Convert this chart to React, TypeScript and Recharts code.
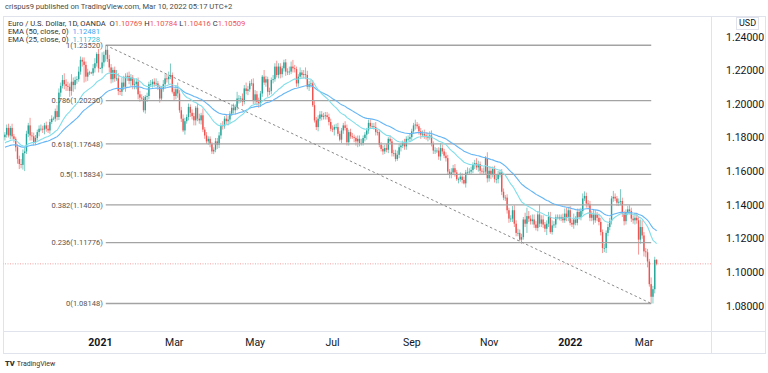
import React from 'react';
import { ComposedChart, Bar, Line, XAxis, YAxis, ReferenceLine } from 'recharts';

// ---- data (prices in pips: 11820 = 1.1820) ----
const startDate = '2020-10-20';
const firstLabelDate = '2021-01-01';
const firstOpenPips = 11805;
const closePips = [
  11820, 11860, 11815, 11860,
  11810, 11795, 11745, 11675, 11645,
  11640, 11710, 11720, 11825, 11875,
  11815, 11810, 11775, 11800, 11835,
  11855, 11855, 11850, 11875, 11855,
  11845, 11895, 11915, 11915, 11960,
  11925, 12070, 12110, 12145, 12120,
  12110, 12105, 12080, 12135, 12115,
  12145, 12150, 12195, 12265, 12255,
  12235, 12165, 12190, 12190, 12185,
  12215, 12245, 12300, 12215, 12215,
  12250, 12295, 12325, 12270, 12220,
  12150, 12205, 12155, 12155, 12080,
  12075, 12130, 12105, 12165, 12170,
  12140, 12160, 12115, 12120, 12135,
  12060, 12040, 12035, 11965, 12045,
  12050, 12120, 12120, 12135, 12120,
  12125, 12105, 12035, 12090, 12120,
  12155, 12150, 12165, 12175, 12075,
  12050, 12090, 12065, 11965, 11915,
  11845, 11900, 11925, 11985, 11950,
  11930, 11905, 11980, 11915, 11905,
  11935, 11850, 11815, 11780, 11795,
  11765, 11720, 11730, 11780, 11760,
  11815, 11875, 11870, 11915, 11900,
  11910, 11945, 11980, 11965, 11985,
  12035, 12035, 12035, 12015, 12095,
  12080, 12090, 12125, 12125, 12020,
  12060, 12015, 12005, 12065, 12165,
  12130, 12150, 12075, 12080, 12145,
  12150, 12225, 12175, 12225, 12180,
  12215, 12250, 12195, 12195, 12195,
  12225, 12215, 12210, 12125, 12165,
  12190, 12175, 12180, 12175, 12105,
  12120, 12125, 11995, 11905, 11865,
  11915, 11940, 11925, 11930, 11935,
  11925, 11895, 11855, 11850, 11865,
  11865, 11825, 11790, 11845, 11875,
  11860, 11775, 11835, 11810, 11805,
  11800, 11780, 11795, 11770, 11770,
  11800, 11820, 11845, 11890, 11870,
  11870, 11865, 11835, 11835, 11760,
  11735, 11720, 11740, 11730, 11795,
  11780, 11710, 11710, 11675, 11700,
  11745, 11755, 11770, 11750, 11795,
  11795, 11805, 11840, 11875, 11880,
  11870, 11840, 11820, 11825, 11815,
  11805, 11805, 11815, 11765, 11725,
  11725, 11725, 11690, 11740, 11720,
  11695, 11680, 11600, 11580, 11595,
  11620, 11595, 11555, 11555, 11570,
  11550, 11530, 11595, 11595, 11600,
  11610, 11640, 11650, 11625, 11645,
  11605, 11600, 11600, 11680, 11560,
  11605, 11580, 11615, 11555, 11555,
  11585, 11595, 11480, 11445, 11445,
  11370, 11320, 11320, 11370, 11290,
  11235, 11235, 11195, 11210, 11315,
  11290, 11335, 11320, 11305, 11315,
  11285, 11265, 11345, 11290, 11315,
  11285, 11260, 11290, 11330, 11240,
  11280, 11285, 11330, 11330, 11320,
  11330, 11310, 11350, 11325, 11370,
  11295, 11285, 11315, 11295, 11360,
  11330, 11365, 11440, 11455, 11410,
  11405, 11325, 11345, 11310, 11345,
  11325, 11300, 11240, 11145, 11145,
  11235, 11270, 11305, 11440, 11450,
  11440, 11415, 11420, 11425, 11350,
  11305, 11360, 11375, 11365, 11320,
  11310, 11325, 11310, 11195, 11270,
  11220, 11125, 11120, 11065, 10930,
  10855, 10900, 11075, 11051,
];
const upperWickPips = [
  15, 20, 25, 12,
  25, 14, 12, 18, 20,
  30, 22, 20, 18, 15,
  45, 20, 22, 18, 15,
  20, 25, 18, 15, 22,
  22, 18, 20, 12, 15,
  35, 25, 20, 30, 40,
  30, 25, 20, 45, 25,
  20, 18, 30, 20, 15,
  25, 20, 22, 10, 5,
  25, 30, 10, 30, 5,
  60, 20, 27, 20, 25,
  20, 15, 20, 50, 30,
  15, 30, 40, 20, 20,
  25, 20, 15, 30, 20,
  25, 20, 20, 15, 10,
  20, 15, 25, 15, 20,
  30, 15, 10, 20, 25,
  25, 25, 30, 68, 15,
  20, 25, 40, 20, 20,
  25, 20, 15, 20, 15,
  20, 20, 10, 25, 30,
  15, 40, 15, 20, 15,
  15, 10, 15, 20, 20,
  20, 15, 25, 15, 25,
  20, 15, 20, 25, 15,
  40, 20, 15, 30, 20,
  35, 20, 15, 25, 30,
  25, 20, 25, 15, 10,
  40, 20, 15, 20, 15,
  25, 20, 35, 20, 20,
  15, 16, 20, 20, 30,
  30, 40, 20, 15, 15,
  30, 15, 25, 40, 25,
  20, 20, 20, 30, 20,
  20, 20, 20, 20, 20,
  20, 20, 20, 20, 15,
  20, 25, 15, 15, 15,
  25, 20, 15, 20, 20,
  15, 10, 20, 20, 25,
  15, 15, 15, 20, 20,
  20, 20, 30, 15, 15,
  15, 20, 20, 25, 10,
  20, 15, 20, 20, 25,
  20, 15, 15, 25, 15,
  20, 25, 15, 15, 29,
  15, 15, 20, 20, 25,
  20, 25, 25, 30, 15,
  20, 15, 20, 30, 20,
  15, 20, 20, 15, 25,
  20, 25, 15, 10, 25,
  20, 20, 15, 30, 20,
  20, 15, 20, 30, 20,
  15, 15, 25, 12, 35,
  25, 25, 15, 20, 30,
  20, 15, 20, 20, 15,
  20, 15, 20, 25, 30,
  20, 25, 20, 20, 15,
  40, 50, 30, 20, 30,
  30, 20, 15, 60, 25,
  25, 15, 20, 30, 30,
  30, 20, 15, 15, 15,
  15, 20, 30, 35, 15,
  25, 20, 35, 20, 20,
  20, 20, 30, 27, 20,
  20, 20, 20, 30, 25,
  15, 25, 25, 15, 25,
  15, 20, 20, 15, 35,
  20, 15, 20, 70, 20,
  15, 15, 20, 25, 20,
  20, 30, 30, 20, 45,
  40, 20, 20, 20, 15,
  40, 20, 18, 3,
];
const lowerWickPips = [
  20, 18, 12, 22,
  15, 22, 25, 28, 30,
  20, 28, 107, 15, 20,
  30, 25, 20, 18, 15,
  25, 15, 20, 28, 18,
  15, 20, 12, 10, 18,
  20, 18, 25, 15, 30,
  30, 25, 35, 28, 40,
  25, 22, 15, 18, 30,
  105, 30, 25, 15, 5,
  15, 25, 20, 25, 5,
  30, 25, 40, 18, 30,
  25, 20, 20, 15, 25,
  20, 25, 20, 30, 25,
  20, 30, 25, 25, 30,
  30, 25, 15, 12, 20,
  30, 20, 15, 20, 15,
  10, 20, 25, 15, 15,
  25, 20, 30, 15, 10,
  30, 20, 25, 15, 20,
  10, 25, 15, 20, 25,
  20, 30, 30, 15, 20,
  25, 15, 20, 15, 20,
  20, 15, 16, 15, 25,
  20, 20, 20, 15, 20,
  25, 20, 15, 20, 25,
  20, 30, 25, 25, 15,
  20, 25, 15, 15, 20,
  20, 20, 25, 20, 20,
  15, 25, 30, 20, 20,
  20, 15, 15, 20, 25,
  20, 20, 25, 20, 20,
  15, 25, 20, 20, 20,
  15, 20, 20, 25, 15,
  25, 20, 10, 13, 18,
  25, 15, 20, 15, 20,
  15, 20, 15, 15, 35,
  15, 15, 10, 20, 20,
  15, 20, 20, 15, 10,
  25, 25, 35, 20, 15,
  15, 20, 30, 20, 15,
  15, 15, 20, 20, 15,
  15, 20, 15, 15, 20,
  15, 20, 20, 15, 11,
  20, 25, 15, 20, 20,
  15, 20, 20, 15, 25,
  15, 20, 25, 15, 20,
  15, 25, 15, 15, 20,
  20, 15, 20, 25, 15,
  15, 20, 15, 20, 20,
  15, 25, 10, 25, 15,
  20, 6, 25, 15, 15,
  15, 20, 25, 15, 25,
  20, 15, 20, 20, 25,
  20, 25, 15, 20, 25,
  25, 20, 20, 15, 20,
  20, 25, 20, 20, 20,
  20, 20, 9, 25, 15,
  20, 55, 20, 20, 20,
  20, 15, 20, 20, 20,
  20, 20, 38, 20, 10,
  15, 15, 20, 15, 10,
  15, 15, 15, 20, 20,
  15, 15, 25, 15, 15,
  15, 20, 20, 15, 25,
  20, 20, 20, 25, 15,
  20, 20, 20, 30, 24,
  30, 20, 20, 20, 20,
  15, 20, 20, 20, 20,
  25, 20, 20, 20, 20,
  20, 25, 20, 89, 25,
  20, 30, 30, 35, 15,
  40, 40, 25, 9,
];
const ema50Seed = 1.1745;
const ema25Seed = 1.177;
const priceTicks = [1.08, 1.1, 1.12, 1.14, 1.16, 1.18, 1.2, 1.22, 1.24];
const monthNames = ['Jan', 'Feb', 'Mar', 'Apr', 'May', 'Jun', 'Jul', 'Aug', 'Sep', 'Oct', 'Nov', 'Dec'];
const labelledMonths = [0, 2, 4, 6, 8, 10];
const fibRatios = ['1', '0.786', '0.618', '0.5', '0.382', '0.236', '0'];
const fibPrices = [1.2352, 1.2023, 1.17648, 1.15834, 1.1402, 1.11776, 1.08148];
const swingHighDate = '2021-01-06';
const swingLowDate = '2022-03-07';
const lastPrice = 1.10509;

// ---- build table ----
const dates: Date[] = [];
{
  const d = new Date(startDate + 'T00:00:00Z');
  while (dates.length < closePips.length) {
    const wd = d.getUTCDay();
    if (wd !== 0 && wd !== 6) dates.push(new Date(d.getTime()));
    d.setUTCDate(d.getUTCDate() + 1);
  }
}
const iso = (d: Date) => d.toISOString().slice(0, 10);

const a50 = 2 / 51;
const a25 = 2 / 26;
let e50 = ema50Seed;
let e25 = ema25Seed;
const data = closePips.map((c, i) => {
  const o = i === 0 ? firstOpenPips : closePips[i - 1];
  const h = Math.max(o, c) + upperWickPips[i];
  const l = Math.min(o, c) - lowerWickPips[i];
  const close = c / 10000;
  if (i > 0) {
    e50 = a50 * close + (1 - a50) * e50;
    e25 = a25 * close + (1 - a25) * e25;
  }
  return {
    i,
    date: iso(dates[i]),
    open: o / 10000,
    close,
    high: h / 10000,
    low: l / 10000,
    range: [l / 10000, h / 10000],
    ema50: e50,
    ema25: e25,
  };
});

const tickIdx: number[] = [];
const tickLabel: Record<number, { text: string; bold: boolean }> = {};
dates.forEach((d, i) => {
  if (i === 0 || iso(d) < firstLabelDate) return;
  const m = d.getUTCMonth();
  if (m !== dates[i - 1].getUTCMonth() && labelledMonths.includes(m)) {
    tickIdx.push(i);
    tickLabel[i] = m === 0 ? { text: String(d.getUTCFullYear()), bold: true } : { text: monthNames[m], bold: false };
  }
});

const hiIdx = data.findIndex((r) => r.date === swingHighDate);
const loIdx = data.findIndex((r) => r.date === swingLowDate);

// ---- styling ----
const FONT = 'Roboto, "Noto Sans", Arial, sans-serif';
const UP = '#26a69a';
const DOWN = '#ef5350';
const EMA50_C = '#64b5f6';
const EMA25_C = '#80deea';
const FRAME = '#e0e3eb';
const TEXT = '#131722';

const Candle = (props: any) => {
  const { x, y, width, height, payload } = props;
  if (!payload) return null;
  const { open, close, high, low } = payload;
  const top = Math.min(y, y + height);
  const h = Math.abs(height);
  const cx = x + width / 2;
  const k = h / Math.max(high - low, 1e-9);
  const yO = top + (high - open) * k;
  const yC = top + (high - close) * k;
  const color = close >= open ? UP : DOWN;
  const bTop = Math.min(yO, yC);
  const bH = Math.max(Math.abs(yC - yO), 0.7);
  const bw = 1.4;
  return (
    <g>
      <line x1={cx} x2={cx} y1={top} y2={top + h} stroke={color} strokeWidth={0.7} strokeOpacity={0.85} />
      <rect x={cx - bw / 2} y={bTop} width={bw} height={bH} fill={color} />
    </g>
  );
};

const PriceTick = (props: any) => {
  const { x, y, payload } = props;
  return (
    <text x={x + 7} y={y} dy={3.5} fontSize={10.5} fill={TEXT} fontFamily={FONT} textAnchor="start">
      {Number(payload.value).toFixed(5)}
    </text>
  );
};

const TimeTick = (props: any) => {
  const { x, y, payload } = props;
  const t = tickLabel[payload.value];
  if (!t) return null;
  return (
    <text x={x} y={y} dy={7} fontSize={10.5} fill={TEXT} fontFamily={FONT} textAnchor="middle" fontWeight={t.bold ? 700 : 400}>
      {t.text}
    </text>
  );
};

export default function App() {
  return (
    <div style={{ position: 'absolute', left: 0, top: 0, width: 768, height: 373, background: '#fff', overflow: 'hidden', fontFamily: FONT }}>
      <div style={{ position: 'absolute', left: 5, top: 2, fontSize: 7.6, color: '#4a4a4a', whiteSpace: 'nowrap' }}>
        crispus9 published on TradingView.com, Mar 10, 2022 05:17 UTC+2
      </div>
      <div style={{ position: 'absolute', left: 3, top: 16, width: 763, height: 338, border: `1px solid ${FRAME}`, boxSizing: 'border-box' }} />
      <div style={{ position: 'absolute', left: 711, top: 16, width: 1, height: 338, background: FRAME }} />
      <div style={{ position: 'absolute', left: 3, top: 331, width: 763, height: 1, background: FRAME }} />
      <div style={{ position: 'absolute', top: 0, left: 0 }}>
        <ComposedChart width={768} height={373} data={data} margin={{ top: 15, right: 0, bottom: 19, left: 3 }}>
          <XAxis
            dataKey="i"
            type="number"
            domain={[-1.1, 392.2]}
            allowDataOverflow
            ticks={tickIdx}
            tick={<TimeTick />}
            tickLine={false}
            axisLine={false}
            height={23}
            interval={0}
          />
          <YAxis
            orientation="right"
            type="number"
            domain={[1.06512, 1.25321]}
            allowDataOverflow
            ticks={priceTicks}
            tick={<PriceTick />}
            tickLine={false}
            axisLine={false}
            width={57}
            interval={0}
          />
          <ReferenceLine y={lastPrice} stroke="#f5a0a0" strokeDasharray="1 1.5" strokeWidth={1} />
          {fibPrices.map((p, k) => (
            <ReferenceLine
              key={k}
              segment={[{ x: hiIdx, y: p }, { x: loIdx, y: p }]}
              stroke="#a3a3a3"
              strokeWidth={1.3}
              ifOverflow="visible"
              label={{ value: `${fibRatios[k]}(${p.toFixed(5)})`, position: 'left', offset: 3, fontSize: 7.5, fill: '#555', fontFamily: FONT }}
            />
          ))}
          <ReferenceLine
            segment={[{ x: hiIdx, y: fibPrices[0] }, { x: loIdx, y: fibPrices[fibPrices.length - 1] }]}
            stroke="#8a8a8a"
            strokeDasharray="2.5 2.5"
            strokeWidth={1}
            ifOverflow="visible"
          />
          <Line dataKey="ema50" stroke={EMA50_C} strokeWidth={1.1} dot={false} isAnimationActive={false} type="linear" />
          <Line dataKey="ema25" stroke={EMA25_C} strokeWidth={1.1} dot={false} isAnimationActive={false} type="linear" />
          <Bar dataKey="range" shape={<Candle />} barSize={2} isAnimationActive={false} />
        </ComposedChart>
      </div>
      <div style={{ position: 'absolute', left: 8, top: 19.5, fontSize: 7.6, lineHeight: '8.4px', color: '#333', whiteSpace: 'nowrap' }}>
        <div>
          Euro / U.S. Dollar, 1D, OANDA&nbsp;&nbsp;O<span style={{ color: DOWN }}>1.10769</span> H<span style={{ color: DOWN }}>1.10784</span> L
          <span style={{ color: DOWN }}>1.10416</span> C<span style={{ color: DOWN }}>1.10509</span>
        </div>
        <div>
          EMA (50, close, 0)&nbsp;&nbsp;<span style={{ color: '#42a5f5' }}>1.12481</span>
        </div>
        <div>
          EMA (25, close, 0)&nbsp;&nbsp;<span style={{ color: '#26c6da' }}>1.11728</span>
        </div>
      </div>
      <div style={{ position: 'absolute', left: 736, top: 17, fontSize: 9, color: TEXT, border: `1px solid ${FRAME}`, padding: '0 2px', lineHeight: '11px', background: '#fff' }}>
        USD
      </div>
      <div style={{ position: 'absolute', left: 5, top: 359, fontSize: 7, color: '#333', whiteSpace: 'nowrap', display: 'flex', alignItems: 'center', gap: 2 }}>
        <span style={{ fontWeight: 900, fontSize: 7.5 }}>TV</span>
        <span>TradingView</span>
      </div>
    </div>
  );
}
